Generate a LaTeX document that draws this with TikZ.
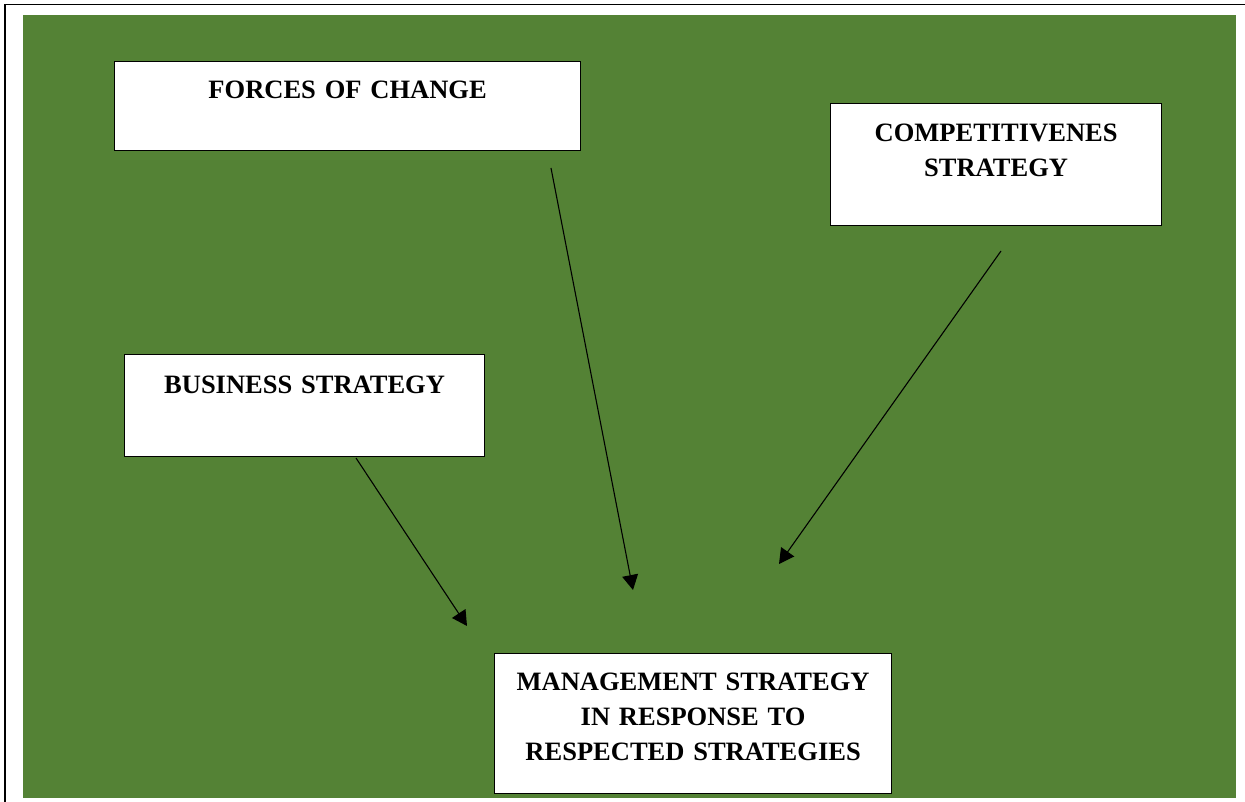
\documentclass[tikz,border=0pt]{standalone}
\usepackage{fontspec}
\setmainfont{Liberation Serif}
\usetikzlibrary{arrows.meta}
\definecolor{panelgreen}{HTML}{548235}

\tikzstyle{s} = [rectangle, draw=black, line width=1.2pt, fill=white, anchor=north west, inner sep=0pt, align=center, font=\fontsize{26.5}{35}\selectfont\bfseries]

\begin{document}
\begin{tikzpicture}[x=1pt,y=-1pt,>={Triangle[length=15pt,width=16pt]},line width=1.1pt]
\useasboundingbox (0,0) rectangle (1245,802);

% page frame and green panel
\draw[line width=1.5pt] (1245,4.5) -- (5,4.5) -- (5,802);
\fill[panelgreen] (23,15) rectangle (1236,798);

\node[s, text width=466pt, text height=37pt, text depth=52pt] (forces) at (114,61) {FORCES OF CHANGE};
\node[s, text width=331pt, text height=38pt, text depth=84pt] (competitive) at (830,103) {COMPETITIVENES\\STRATEGY};
\node[s, text width=360pt, text height=39pt, text depth=63pt] (business) at (124,354) {BUSINESS STRATEGY};
\node[s, text width=397pt, text height=37pt, text depth=103pt] (management) at (494,653) {MANAGEMENT STRATEGY\\IN RESPONSE TO\\RESPECTED STRATEGIES};

% arrows float between the boxes
\coordinate (businessTail) at (356,458);
\coordinate (businessHead) at (467,626);
\coordinate (forcesTail) at (551,168);
\coordinate (forcesHead) at (633,590);
\coordinate (competitiveTail) at (1001,251);
\coordinate (competitiveHead) at (779,564);

\draw[->] (businessTail) -- (businessHead);
\draw[->] (forcesTail) -- (forcesHead);
\draw[->] (competitiveTail) -- (competitiveHead);

\end{tikzpicture}
\end{document}
